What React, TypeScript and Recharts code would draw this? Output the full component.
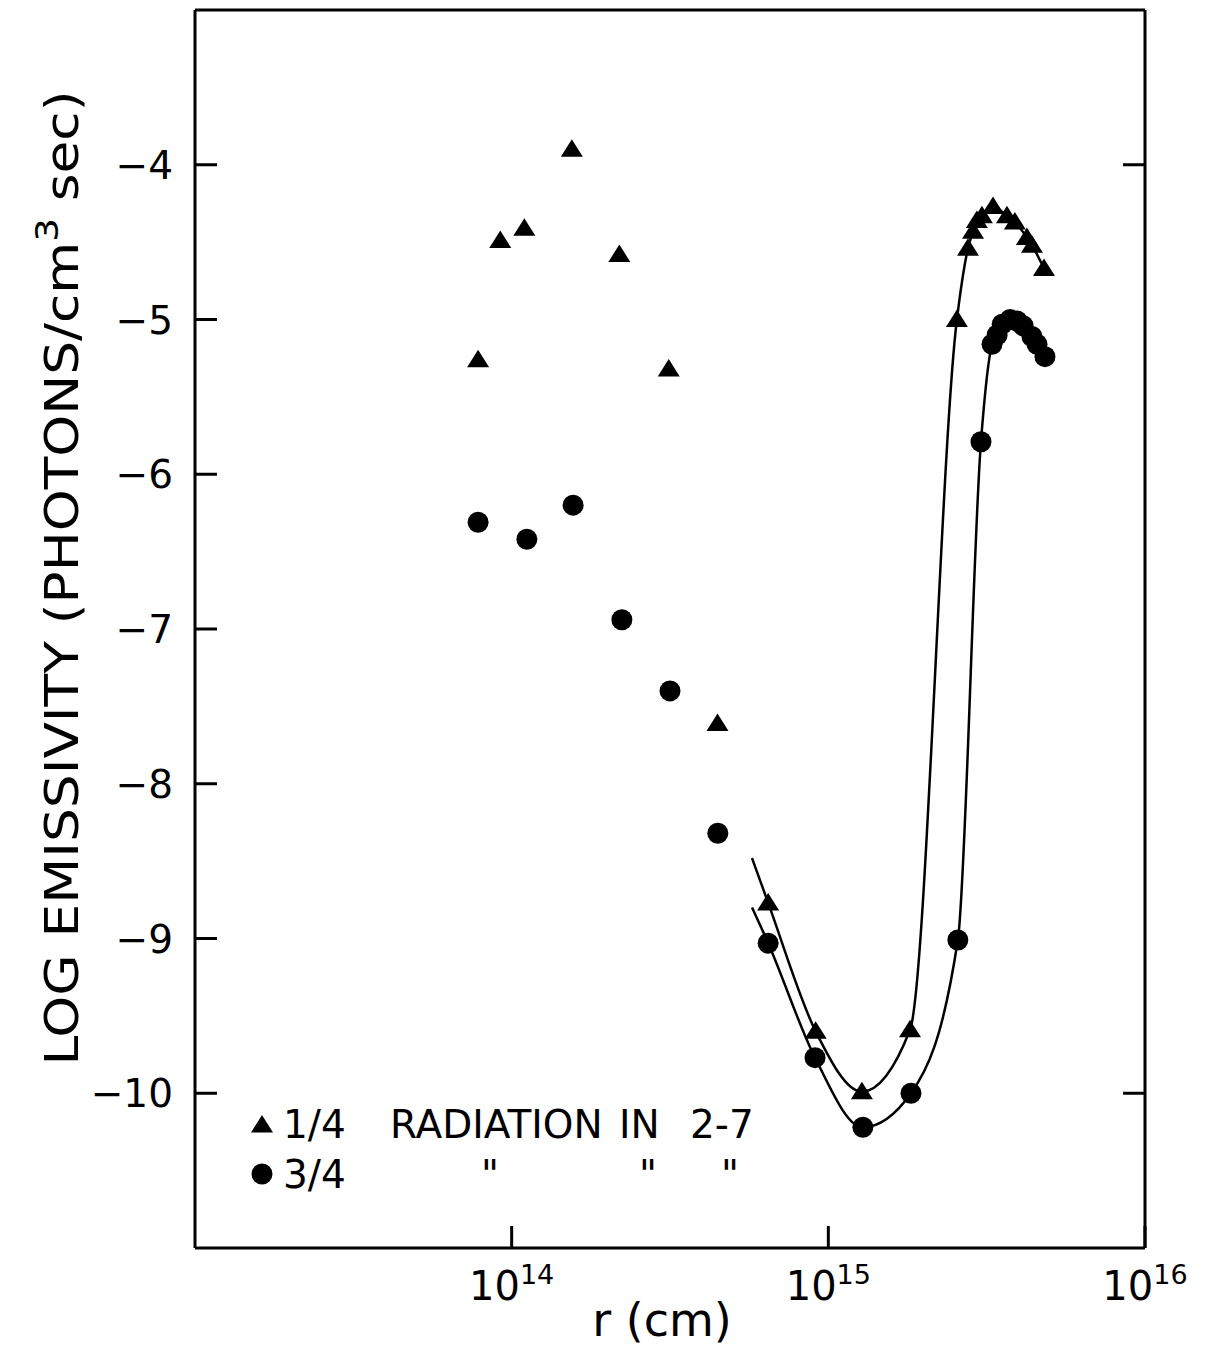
import { ComposedChart, Scatter, Line, XAxis, YAxis, Legend } from "recharts";

const FONT = "'DejaVu Sans', sans-serif";

// x = log10 r (cm), y = log emissivity
// 1/4 radiation in 2-7: isolated points, then the fitted branch
const quarterDotsR = [13.894, 13.964, 14.04, 14.19, 14.34, 14.496, 14.65];
const quarterDotsE = [-5.26, -4.49, -4.41, -3.9, -4.58, -5.32, -7.61];
const quarterFitR = [14.81, 14.96, 15.106, 15.258, 15.406, 15.441, 15.457, 15.469, 15.485, 15.52, 15.564, 15.589, 15.627, 15.643, 15.681];
const quarterFitE = [-8.77, -9.6, -9.99, -9.59, -5.0, -4.54, -4.43, -4.36, -4.33, -4.27, -4.33, -4.37, -4.47, -4.52, -4.67];
const quarterCurveStart = [14.759, -8.48];

// 3/4 radiation in 2-7
const threeQDotsR = [13.894, 14.048, 14.194, 14.348, 14.5, 14.651];
const threeQDotsE = [-6.31, -6.42, -6.2, -6.94, -7.4, -8.32];
const threeQFitR = [14.81, 14.958, 15.109, 15.261, 15.409, 15.482, 15.517, 15.533, 15.549, 15.574, 15.596, 15.615, 15.643, 15.659, 15.684];
const threeQFitE = [-9.03, -9.77, -10.22, -10.0, -9.01, -5.79, -5.16, -5.1, -5.03, -5.0, -5.01, -5.04, -5.11, -5.16, -5.24];
const threeQCurveStart = [14.759, -8.8];

const xTicks = [14, 15, 16];
const xTopTicks = [14, 15];
const yTicks = [-4, -5, -6, -7, -8, -9, -10];
const yRightTicks = [-4, -10];

const toPoints = (rs: number[], es: number[]) => rs.map((r, i) => ({ r, e: es[i] }));

const quarterDots = toPoints([...quarterDotsR, ...quarterFitR], [...quarterDotsE, ...quarterFitE]);
const threeQDots = toPoints([...threeQDotsR, ...threeQFitR], [...threeQDotsE, ...threeQFitE]);
const quarterCurve = toPoints([quarterCurveStart[0], ...quarterFitR], [quarterCurveStart[1], ...quarterFitE]);
const threeQCurve = toPoints([threeQCurveStart[0], ...threeQFitR], [threeQCurveStart[1], ...threeQFitE]);

const TICK_LEN = 22;

function Triangle({ cx, cy }: any) {
  const s = 10;
  return <polygon points={`${cx},${cy - s} ${cx - s * 1.1},${cy + s * 0.75} ${cx + s * 1.1},${cy + s * 0.75}`} fill="#000" />;
}

function Dot({ cx, cy }: any) {
  return <circle cx={cx} cy={cy} r={10.5} fill="#000" />;
}

function BottomTick({ x, y, payload }: any) {
  return (
    <g>
      <line x1={x} y1={y} x2={x} y2={y - TICK_LEN} stroke="#000" strokeWidth={3} />
      <text x={x} y={y + 52} textAnchor="middle" fontSize={40} fontFamily={FONT} fill="#000">
        <tspan>10</tspan>
        <tspan dy={-16} fontSize={27}>{payload.value}</tspan>
      </text>
    </g>
  );
}

function TopTick({ x, y }: any) {
  return <line x1={x} y1={y} x2={x} y2={y + TICK_LEN} stroke="#000" strokeWidth={3} />;
}

function LeftTick({ x, y, payload }: any) {
  return (
    <g>
      <line x1={x} y1={y} x2={x + TICK_LEN} y2={y} stroke="#000" strokeWidth={3} />
      <text x={x - 22} y={y + 14} textAnchor="end" fontSize={39} fontFamily={FONT} fill="#000">
        {`\u2212${Math.abs(payload.value)}`}
      </text>
    </g>
  );
}

function RightTick({ x, y }: any) {
  return <line x1={x} y1={y} x2={x - TICK_LEN} y2={y} stroke="#000" strokeWidth={3} />;
}

function YLabel({ viewBox }: any) {
  const cx = viewBox.x + 78;
  const cy = 578;
  return (
    <text
      x={cx}
      y={cy}
      transform={`rotate(-90 ${cx} ${cy})`}
      textAnchor="middle"
      fontSize={46}
      fontFamily={FONT}
      fill="#000"
      textLength={975}
      lengthAdjust="spacingAndGlyphs"
    >
      <tspan>LOG EMISSIVITY (PHOTONS/cm</tspan>
      <tspan dy={-20} fontSize={32}>3</tspan>
      <tspan dy={20}> sec)</tspan>
    </text>
  );
}

function XLabel({ viewBox }: any) {
  return (
    <text x={viewBox.x + viewBox.width / 2 - 8} y={viewBox.y + 88} textAnchor="middle" fontSize={46} fontFamily={FONT} fill="#000">
      r (cm)
    </text>
  );
}

function LegendBox() {
  const t = { fontSize: 39, fontFamily: FONT, fill: "#000" };
  return (
    <svg width={1206} height={1352} style={{ position: "absolute", left: 0, top: 0, overflow: "visible", pointerEvents: "none" }}>
      <Triangle cx={262} cy={1125} />
      <text x={283} y={1138} {...t}>1/4</text>
      <text x={390} y={1138} {...t}>RADIATION</text>
      <text x={619} y={1138} {...t}>IN</text>
      <text x={690} y={1138} {...t}>2-7</text>
      <Dot cx={262} cy={1174} />
      <text x={283} y={1188} {...t}>3/4</text>
      <text x={490} y={1188} textAnchor="middle" {...t}>"</text>
      <text x={648} y={1188} textAnchor="middle" {...t}>"</text>
      <text x={730} y={1188} textAnchor="middle" {...t}>"</text>
    </svg>
  );
}

export default function App() {
  return (
    <div style={{ position: "absolute", left: 0, top: 0, width: 1206, height: 1352, background: "#fff" }}>
      <ComposedChart width={1206} height={1352} margin={{ top: 0, right: 0, bottom: 0, left: 0 }}>
        <XAxis
          dataKey="r"
          type="number"
          domain={[13, 16]}
          allowDataOverflow
          ticks={xTicks}
          interval={0}
          height={104}
          tickSize={0}
          tickMargin={0}
          tickLine={false}
          tick={<BottomTick />}
          axisLine={{ stroke: "#000", strokeWidth: 3 }}
          label={<XLabel />}
        />
        <XAxis
          xAxisId="top"
          orientation="top"
          type="number"
          domain={[13, 16]}
          allowDataOverflow
          ticks={xTopTicks}
          interval={0}
          height={10}
          tickSize={0}
          tickMargin={0}
          tickLine={false}
          tick={<TopTick />}
          axisLine={{ stroke: "#000", strokeWidth: 3 }}
        />
        <YAxis
          dataKey="e"
          type="number"
          domain={[-11, -3]}
          allowDataOverflow
          ticks={yTicks}
          interval={0}
          width={195}
          tickSize={0}
          tickMargin={0}
          tickLine={false}
          tick={<LeftTick />}
          axisLine={{ stroke: "#000", strokeWidth: 3 }}
          label={<YLabel />}
        />
        <YAxis
          yAxisId="right"
          orientation="right"
          type="number"
          domain={[-11, -3]}
          allowDataOverflow
          ticks={yRightTicks}
          interval={0}
          width={61}
          tickSize={0}
          tickMargin={0}
          tickLine={false}
          tick={<RightTick />}
          axisLine={{ stroke: "#000", strokeWidth: 3 }}
        />
        <Legend content={<LegendBox />} wrapperStyle={{ position: "absolute", left: 0, top: 0, width: 0, height: 0 }} />
        <Line data={quarterCurve} dataKey="e" type="monotone" stroke="#000" strokeWidth={2.5} dot={false} activeDot={false} isAnimationActive={false} legendType="none" />
        <Line data={threeQCurve} dataKey="e" type="monotone" stroke="#000" strokeWidth={2.5} dot={false} activeDot={false} isAnimationActive={false} legendType="none" />
        <Scatter data={quarterDots} dataKey="e" shape={<Triangle />} isAnimationActive={false} legendType="none" />
        <Scatter data={threeQDots} dataKey="e" shape={<Dot />} isAnimationActive={false} legendType="none" />
      </ComposedChart>
    </div>
  );
}
